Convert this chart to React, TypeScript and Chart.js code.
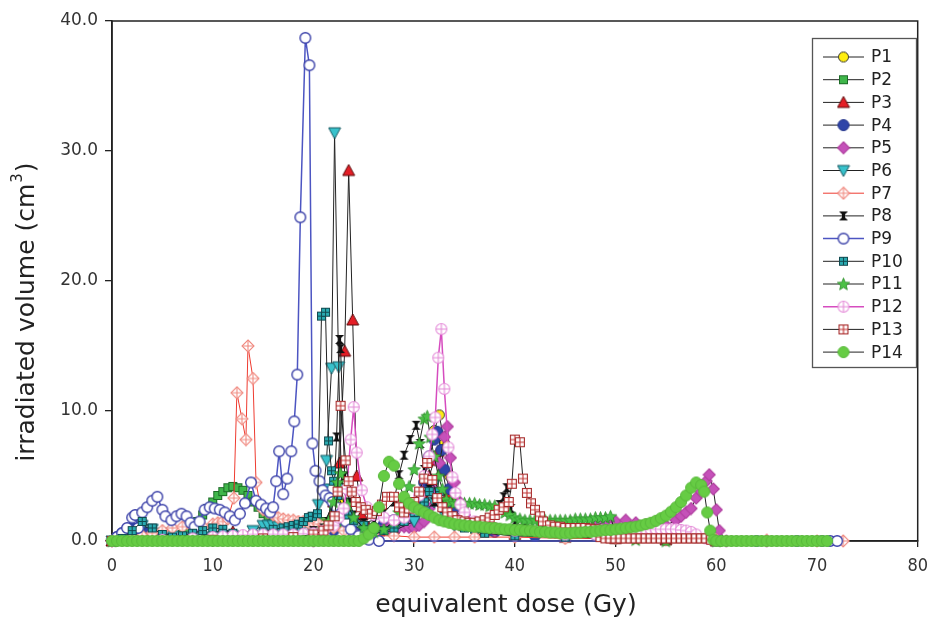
import React, { useEffect, useRef } from "react";
import { Chart, registerables } from "chart.js";

Chart.register(...registerables);

// ---------- data: [dose (Gy), volume (cm3)] ----------
const SERIES_NAMES = ["P1", "P2", "P3", "P4", "P5", "P6", "P7", "P8", "P9", "P10", "P11", "P12", "P13", "P14"];
const X_TICKS = [0, 10, 20, 30, 40, 50, 60, 70, 80];
const Y_TICKS = [0, 10, 20, 30, 40];
const X_TITLE = "equivalent dose (Gy)";
const Y_TITLE_MAIN = "irradiated volume (cm";
const Y_TITLE_SUP = "3";
const Y_TITLE_END = ")";

const P1: [number, number][] = [[0,0],[20,0.2],[21,0.8],[22,2.0],[22.5,3.0],[23,1.5],[24,0.6],[26,0.4],[28,0.8],[29,1.2],[30,2.0],[30.5,3.0],[31,4.5],[31.5,6.5],[32,8.5],[32.5,9.7],[33,7.5],[33.5,5.0],[34,3.0],[35,1.5],[37,0.8],[40,0.5],[45,0.3],[50,0.2],[55,0.1],[60,0]];
const P2: [number, number][] = [[0,0],[5,0],[6,0.2],[7,0.5],[7.5,0.8],[8,1.1],[8.5,1.5],[9,2.0],[9.5,2.5],[10,3.0],[10.5,3.5],[11,3.8],[11.5,4.1],[12,4.2],[12.5,4.1],[13,3.9],[13.5,3.5],[14,3.0],[14.5,2.6],[15,2.1],[15.5,1.8],[16,1.5],[16.5,1.2],[17,1.0],[18,0.6],[19,0.4],[20,0.6],[21,1.5],[22,2.5],[23,1.2],[25,0.6],[28,0.8],[30,1.5],[31,3.0],[32,4.5],[33,3.0],[34,1.5],[36,0.9],[40,0.6],[45,0.4],[50,0.2],[55,0.1],[60,0]];
const P3: [number, number][] = [[0,0],[8,0.2],[10,0.6],[11,0.9],[12,0.7],[14,0.5],[16,0.5],[18,0.6],[20,0.8],[21,1.2],[22,3.0],[22.6,6.0],[23.1,14.6],[23.5,28.5],[23.9,17.0],[24.3,5.0],[24.8,2.0],[25.5,1.0],[26.5,0.8],[28,1.0],[30,2.0],[31,3.5],[31.5,5.0],[32,6.2],[32.4,6.9],[32.8,5.5],[33.3,3.5],[34,2.0],[35,1.2],[37,0.8],[40,0.5],[45,0.3],[50,0.2],[55,0.1],[60,0]];
const P4: [number, number][] = [[0,0],[0.5,0.3],[1,0.6],[1.5,0.9],[2,1.0],[2.5,0.9],[3,0.8],[3.5,0.6],[4,0.5],[5,0.4],[6,0.3],[8,0.3],[10,0.3],[12,0.4],[14,0.5],[16,0.4],[18,0.4],[20,0.5],[22,0.8],[24,0.7],[25,0.8],[26,1.0],[27,1.3],[27.5,1.5],[28,1.6],[28.5,1.6],[29,1.5],[29.5,1.6],[30,2.0],[30.5,3.0],[31,4.5],[31.5,6.5],[32,7.8],[32.3,8.4],[32.7,7.0],[33,5.5],[33.5,4.0],[34,2.5],[35,1.5],[36,1.0],[38,0.7],[40,0.5],[42,0.4],[45,0.4],[48,0.5],[50,0.6],[52,0.7],[54,0.7],[56,0.5],[58,0.3],[60,0]];
const P5: [number, number][] = [[0,0],[20,0],[24,0.1],[25,0.3],[25.5,0.45],[26,0.6],[26.5,0.75],[27,0.9],[27.5,1.0],[28,1.1],[28.5,1.1],[29,1.1],[29.5,1.05],[30,1.0],[30.5,1.2],[31,1.5],[31.5,2.5],[32,4.0],[32.5,6.0],[33,8.0],[33.3,8.8],[33.6,6.4],[34,4.5],[34.5,3.0],[35,2.0],[36,1.2],[38,0.8],[40,0.6],[44,0.7],[48,1.2],[49,1.5],[50,1.5],[51,1.6],[52,1.4],[53,1.2],[54,1.1],[55,1.2],[56,1.6],[56.5,1.9],[57,2.2],[57.5,2.5],[58,3.3],[58.5,3.8],[59,4.6],[59.3,5.1],[59.7,4.0],[60,2.4],[60.3,0.8],[61,0],[65,0]];
const P6: [number, number][] = [[0,0],[1,0.3],[2,0.8],[3,1.2],[4,0.9],[5,0.6],[6,0.4],[8,0.3],[10,0.3],[12,0.4],[14,0.8],[15,1.2],[15.5,1.2],[16,1.2],[16.5,1.1],[17,1.1],[17.5,1.1],[18,1.1],[18.5,1.1],[19,1.2],[19.5,1.3],[20,1.8],[20.5,2.8],[21,4.0],[21.3,6.2],[21.8,13.3],[22.1,31.4],[22.5,13.4],[22.8,4.0],[23.2,2.0],[24,1.2],[25,0.8],[26,0.6],[28,0.8],[30,1.5],[31,2.2],[32,3.0],[33,2.0],[34,1.2],[36,0.7],[40,0.4],[45,0.3],[50,0.2],[55,0.1],[60,0]];
const P7: [number, number][] = [[0,0],[2,0.2],[3,0.4],[4,0.6],[5,0.8],[6,1.0],[7,1.1],[8,1.0],[9,1.1],[10,1.3],[10.5,1.4],[11,1.5],[11.5,1.7],[12.1,3.3],[12.4,11.4],[12.9,9.4],[13.3,7.8],[13.5,15.0],[14.0,12.5],[14.3,4.5],[14.7,2.8],[15,2.4],[15.5,2.2],[16,2.0],[16.5,1.8],[17,1.7],[17.5,1.6],[18,1.6],[18.5,1.5],[19,1.5],[19.5,1.4],[20,1.4],[20.5,1.3],[21,1.2],[21.5,1.1],[22,1.0],[23,0.8],[24,0.6],[25,0.5],[26,0.4],[28,0.4],[30,0.3],[32,0.3],[34,0.3],[36,0.3],[40,0.3],[45,0.2],[50,0.2],[55,0.1],[60,0.1],[65,0.05],[70,0],[72.6,0]];
const P8: [number, number][] = [[0,0],[10,0.1],[15,0.3],[18,0.5],[20,0.8],[21,1.0],[21.5,1.5],[22,3.0],[22.3,8.0],[22.6,15.5],[22.7,14.8],[23.1,5.0],[23.6,3.0],[24,2.0],[25,1.4],[26,1.6],[27,2.2],[28,3.0],[28.5,5.1],[29,6.6],[29.6,7.8],[30.2,8.9],[30.6,7.5],[31,5.5],[31.5,4.0],[32,3.0],[33,2.0],[34,1.6],[35,1.4],[36,1.4],[37,1.6],[38,2.0],[38.5,2.8],[38.9,3.4],[39.2,4.1],[39.6,2.5],[40,1.5],[41,1.0],[43,0.8],[45,0.6],[50,0.4],[55,0.2],[60,0]];
const P9: [number, number][] = [[0,0],[0.5,0.3],[1,0.6],[1.5,1.0],[2,1.8],[2.3,2.0],[2.6,1.0],[3,2.2],[3.5,2.6],[4,3.1],[4.5,3.4],[5,2.4],[5.3,1.9],[5.9,1.6],[6.4,1.9],[6.9,2.1],[7.4,1.9],[7.8,1.4],[8.2,1.1],[8.7,1.5],[9.2,2.4],[9.7,2.6],[10.2,2.5],[10.7,2.4],[11.2,2.2],[11.7,1.9],[12.2,1.6],[12.7,2.1],[13.2,2.9],[13.8,4.5],[14.3,3.1],[14.8,2.8],[15.3,2.5],[15.7,2.2],[16.0,2.6],[16.3,4.6],[16.6,6.9],[17.0,3.6],[17.4,4.8],[17.8,6.9],[18.1,9.2],[18.4,12.8],[18.7,24.9],[19.2,38.7],[19.6,36.6],[19.9,7.5],[20.2,5.4],[20.6,4.6],[20.9,3.9],[21.2,3.5],[21.6,3.3],[21.9,3.0],[22.3,2.6],[22.7,2.1],[23.2,1.5],[23.7,0.9],[24.5,0.4],[25.5,0.1],[26.5,0],[60,0],[64,0],[68,0],[70.5,0],[71.3,0],[72,0]];
const P10: [number, number][] = [[0,0],[1,0.2],[2,0.8],[3,1.5],[4,1.0],[5,0.5],[6,0.3],[7,0.4],[8,0.6],[9,0.8],[10,1.0],[11,0.9],[12,0.6],[13,0.4],[14,0.5],[15,0.7],[16,0.9],[17,1.0],[17.5,1.1],[18,1.2],[18.5,1.3],[19,1.5],[19.5,1.8],[19.9,1.9],[20.4,2.1],[20.8,17.3],[21.2,17.6],[21.5,7.7],[21.8,5.4],[22.0,4.6],[22.4,3.5],[23,2.5],[23.5,2.0],[24,1.6],[25,1.2],[26,0.9],[27,0.8],[28,1.0],[29,1.5],[30,2.2],[31,3.0],[31.5,3.8],[32,4.7],[32.5,3.8],[33,2.5],[34,1.5],[35,1.0],[37,0.6],[40,0.4],[45,0.3],[50,0.2],[55,0.1],[60,0]];
const P11: [number, number][] = [[0,0],[10,0.1],[15,0.2],[18,0.3],[20,0.5],[21,0.9],[21.5,1.5],[22,3.0],[22.4,4.5],[22.7,5.2],[23.0,4.0],[23.4,2.8],[24,1.8],[25,1.0],[26,0.7],[27,0.9],[28,1.5],[28.5,2.2],[29,3.0],[29.5,4.2],[30,5.5],[30.5,7.5],[31,9.4],[31.3,9.6],[31.6,8.0],[32,6.5],[32.4,5.0],[32.8,4.0],[33.2,3.2],[33.6,3.0],[34,2.9],[34.5,2.9],[35,2.9],[35.5,2.9],[36,2.9],[36.5,2.8],[37,2.8],[37.5,2.7],[38,2.7],[38.5,2.5],[39,2.2],[39.5,2.0],[40,1.8],[40.5,1.7],[41,1.6],[41.5,1.6],[42,1.6],[42.5,1.6],[43,1.6],[43.5,1.6],[44,1.6],[44.5,1.6],[45,1.6],[45.5,1.6],[46,1.7],[46.5,1.7],[47,1.7],[47.5,1.7],[48,1.8],[48.5,1.8],[49,1.8],[49.5,1.9],[50,0.5],[52,0.1],[55,0],[60,0]];
const P12: [number, number][] = [[0,0],[5,0.1],[8,0.2],[10,0.3],[11,0.35],[12,0.4],[13,0.45],[14,0.5],[15,0.5],[16,0.5],[17,0.5],[18,0.5],[19,0.55],[20,0.6],[21,0.8],[22,1.2],[22.5,1.8],[23,2.5],[23.3,4.0],[23.7,7.8],[24.0,10.3],[24.3,6.8],[24.8,3.9],[25.3,2.6],[26,2.0],[27,1.8],[28,1.6],[29,1.8],[30,2.5],[30.5,3.5],[31,5.0],[31.5,6.5],[31.8,8.2],[32.1,9.5],[32.4,14.1],[32.7,16.3],[33.0,11.7],[33.4,7.2],[33.8,4.9],[34.1,3.7],[34.6,2.8],[35,2.2],[36,1.5],[38,1.0],[40,0.8],[45,0.5],[48,0.5],[50,0.6],[51,0.7],[52,0.8],[52.5,0.85],[53,0.9],[53.5,0.9],[54,0.9],[54.5,0.9],[55,0.9],[55.5,0.9],[56,0.9],[56.5,0.85],[57,0.8],[57.5,0.7],[58,0.5],[59,0.2],[60,0]];
const P13: [number, number][] = [[0,0],[5,0],[10,0.1],[15,0.2],[18,0.3],[20,0.5],[21,0.8],[21.5,1.2],[22.1,1.9],[22.4,3.8],[22.7,10.4],[23.2,6.2],[23.5,4.6],[23.8,3.8],[24.2,3.0],[24.7,2.6],[25.2,2.4],[25.8,2.1],[26.3,2.3],[26.8,2.8],[27.3,3.4],[28.0,3.4],[28.5,2.6],[29.0,2.2],[29.5,2.5],[30.0,3.0],[30.5,3.8],[31.0,4.8],[31.3,6.0],[31.8,4.7],[32.3,3.3],[32.8,2.6],[33.3,2.2],[33.8,1.9],[34.3,1.6],[35,1.5],[35.5,1.4],[36,1.4],[36.5,1.5],[37,1.6],[37.5,1.8],[38,2.0],[38.4,2.4],[38.9,2.6],[39.4,3.0],[39.7,4.4],[40.0,7.8],[40.5,7.6],[40.8,4.8],[41.2,3.7],[41.6,2.9],[42.0,2.4],[42.5,1.9],[42.8,1.5],[43.5,1.2],[44,1.1],[44.5,1.1],[45,1.0],[45.5,1.0],[46,1.0],[46.5,1.0],[47,1.0],[47.5,0.95],[48,0.9],[48.5,0.3],[49,0.2],[49.5,0.2],[50,0.2],[50.5,0.2],[51,0.2],[51.5,0.2],[52,0.2],[52.5,0.2],[53,0.2],[53.5,0.2],[54,0.2],[54.5,0.2],[55,0.2],[55.5,0.2],[56,0.2],[56.5,0.2],[57,0.2],[57.5,0.2],[58,0.2],[58.5,0.2],[59,0.2],[59.5,0.1],[60,0]];
const P14: [number, number][] = [
  [0,0],[0.5,0],[1,0],[1.5,0],[2,0],[2.5,0],[3,0],[3.5,0],[4,0],[4.5,0],[5,0],[5.5,0],[6,0],[6.5,0],[7,0],[7.5,0],[8,0],[8.5,0],[9,0],[9.5,0],
  [10,0],[10.5,0],[11,0],[11.5,0],[12,0],[12.5,0],[13,0],[13.5,0],[14,0],[14.5,0],[15,0],[15.5,0],[16,0],[16.5,0],[17,0],[17.5,0],[18,0],[18.5,0],[19,0],[19.5,0],
  [20,0],[20.5,0],[21,0],[21.5,0],[22,0],[22.5,0],[23,0],[23.5,0],[24,0],[24.5,0],
  [25,0.2],[25.5,0.5],[26,1.0],[26.5,2.6],[27,5.0],[27.5,6.1],[28,5.8],[28.5,4.4],[29,3.4],[29.5,2.9],
  [30,2.6],[30.5,2.4],[31,2.2],[31.5,2.0],[32,1.8],[32.5,1.6],[33,1.5],[33.5,1.4],[34,1.3],[34.5,1.25],
  [35,1.2],[35.5,1.15],[36,1.1],[36.5,1.1],[37,1.05],[37.5,1.0],[38,1.0],[38.5,0.95],[39,0.9],[39.5,0.9],
  [40,0.85],[40.5,0.85],[41,0.8],[41.5,0.8],[42,0.75],[42.5,0.7],[43,0.7],[43.5,0.65],[44,0.65],[44.5,0.6],
  [45,0.6],[45.5,0.6],[46,0.65],[46.5,0.65],[47,0.7],[47.5,0.7],[48,0.75],[48.5,0.8],[49,0.85],[49.5,0.85],
  [50,0.9],[50.5,0.95],[51,1.0],[51.5,1.05],[52,1.1],[52.5,1.2],[53,1.3],[53.5,1.4],[54,1.55],[54.5,1.75],
  [55,1.95],[55.5,2.25],[56,2.6],[56.5,3.0],[57,3.5],[57.5,4.1],[58,4.5],[58.5,4.3],
  [58.8,3.8],[59.1,2.2],[59.4,0.8],[59.7,0.1],
  [60,0],[60.5,0],[61,0],[61.5,0],[62,0],[62.5,0],[63,0],[63.5,0],[64,0],[64.5,0],[65,0],[65.5,0],
  [66,0],[66.5,0],[67,0],[67.5,0],[68,0],[68.5,0],[69,0],[69.5,0],[70,0],[70.5,0],[71,0]
];

const SERIES_DATA = [P1, P2, P3, P4, P5, P6, P7, P8, P9, P10, P11, P12, P13, P14];

// ---------- marker factories ----------
type Draw = (c: CanvasRenderingContext2D, s: number) => void;
function makeCanvas(size: number, draw: Draw): HTMLCanvasElement {
  const cv = document.createElement("canvas");
  cv.width = size;
  cv.height = size;
  const c = cv.getContext("2d") as CanvasRenderingContext2D;
  draw(c, size);
  return cv;
}
function circleMarker(d: number, fill: string, stroke: string, lw: number, cross = false) {
  return makeCanvas(d + 2, (c, s) => {
    const r = d / 2 - lw / 2;
    c.beginPath();
    c.arc(s / 2, s / 2, r, 0, Math.PI * 2);
    c.fillStyle = fill;
    c.fill();
    c.lineWidth = lw;
    c.strokeStyle = stroke;
    c.stroke();
    if (cross) {
      c.beginPath();
      c.moveTo(s / 2, s / 2 - r);
      c.lineTo(s / 2, s / 2 + r);
      c.moveTo(s / 2 - r, s / 2);
      c.lineTo(s / 2 + r, s / 2);
      c.stroke();
    }
  });
}
function squareMarker(d: number, fill: string, stroke: string, lw: number, cross = false, crossColor?: string) {
  return makeCanvas(d + 2, (c, s) => {
    const o = 1 + lw / 2;
    const w = s - 2 * o;
    c.fillStyle = fill;
    c.fillRect(o, o, w, w);
    c.lineWidth = lw;
    c.strokeStyle = stroke;
    c.strokeRect(o, o, w, w);
    if (cross) {
      c.strokeStyle = crossColor || stroke;
      c.beginPath();
      c.moveTo(s / 2, o);
      c.lineTo(s / 2, o + w);
      c.moveTo(o, s / 2);
      c.lineTo(o + w, s / 2);
      c.stroke();
    }
  });
}
function triangleMarker(d: number, fill: string, stroke: string, down: boolean) {
  return makeCanvas(d + 2, (c, s) => {
    const m = 1;
    c.beginPath();
    if (!down) {
      c.moveTo(s / 2, m);
      c.lineTo(s - m, s - m - 1);
      c.lineTo(m, s - m - 1);
    } else {
      c.moveTo(m, m + 1);
      c.lineTo(s - m, m + 1);
      c.lineTo(s / 2, s - m);
    }
    c.closePath();
    c.fillStyle = fill;
    c.fill();
    c.lineWidth = 1;
    c.strokeStyle = stroke;
    c.stroke();
  });
}
function diamondMarker(d: number, fill: string, stroke: string, cross = false) {
  return makeCanvas(d + 2, (c, s) => {
    const h = s / 2;
    const r = d / 2;
    c.beginPath();
    c.moveTo(h, h - r);
    c.lineTo(h + r, h);
    c.lineTo(h, h + r);
    c.lineTo(h - r, h);
    c.closePath();
    c.fillStyle = fill;
    c.fill();
    c.lineWidth = 1.1;
    c.strokeStyle = stroke;
    c.stroke();
    if (cross) {
      c.beginPath();
      c.moveTo(h, h - r);
      c.lineTo(h, h + r);
      c.moveTo(h - r, h);
      c.lineTo(h + r, h);
      c.stroke();
    }
  });
}
function hourglassMarker(d: number) {
  return makeCanvas(d + 2, (c, s) => {
    const m = 1;
    c.fillStyle = "#111";
    c.beginPath();
    c.moveTo(m, m);
    c.lineTo(s - m, m);
    c.lineTo(s / 2, s / 2);
    c.closePath();
    c.fill();
    c.beginPath();
    c.moveTo(m, s - m);
    c.lineTo(s - m, s - m);
    c.lineTo(s / 2, s / 2);
    c.closePath();
    c.fill();
    c.fillRect(s / 2 - 1.5, m, 3, s - 2 * m);
  });
}
function starMarker(d: number, fill: string, stroke: string) {
  return makeCanvas(d + 2, (c, s) => {
    const R = d / 2;
    const r = R * 0.45;
    c.beginPath();
    for (let k = 0; k < 10; k++) {
      const a = -Math.PI / 2 + (k * Math.PI) / 5;
      const rr = k % 2 === 0 ? R : r;
      const x = s / 2 + rr * Math.cos(a);
      const y = s / 2 + 0.5 + rr * Math.sin(a);
      if (k === 0) c.moveTo(x, y);
      else c.lineTo(x, y);
    }
    c.closePath();
    c.fillStyle = fill;
    c.fill();
    c.lineWidth = 0.8;
    c.strokeStyle = stroke;
    c.stroke();
  });
}

interface Style {
  line: string;
  lineWidth: number;
  marker: () => HTMLCanvasElement;
}
const STYLES: Style[] = [
  { line: "#222", lineWidth: 1, marker: () => circleMarker(11, "#ffee10", "#333", 1) },
  { line: "#222", lineWidth: 1, marker: () => squareMarker(9, "#3fb64a", "#1d6b27", 1) },
  { line: "#222", lineWidth: 1, marker: () => triangleMarker(12, "#e41e26", "#5a0a0a", false) },
  { line: "#222", lineWidth: 1, marker: () => circleMarker(12, "#2f45a8", "#24358a", 1) },
  { line: "#222", lineWidth: 1, marker: () => diamondMarker(12, "#c551b9", "#b0409f") },
  { line: "#222", lineWidth: 1, marker: () => triangleMarker(12, "#38c2cc", "#1a5a62", true) },
  { line: "#ee3b30", lineWidth: 1, marker: () => diamondMarker(12, "#ffffff", "#f08a80", true) },
  { line: "#222", lineWidth: 1, marker: () => hourglassMarker(9) },
  { line: "#4c55c2", lineWidth: 1.5, marker: () => circleMarker(12, "#ffffff", "#3a40a8", 1.4) },
  { line: "#222", lineWidth: 1, marker: () => squareMarker(9, "#2aaab0", "#124a50", 1, true) },
  { line: "#222", lineWidth: 1, marker: () => starMarker(13, "#4cc146", "#2c8a2a") },
  { line: "#d64cbf", lineWidth: 1.5, marker: () => circleMarker(12, "#ffffff", "#e48ad8", 1.1, true) },
  { line: "#222", lineWidth: 1, marker: () => squareMarker(10, "#ffffff", "#a52a2a", 1.1, true, "#c03030") },
  { line: "#222", lineWidth: 1, marker: () => circleMarker(12, "#66cc44", "#58b83a", 1) },
];

const FONT = "'DejaVu Sans', Verdana, sans-serif";

export default function App() {
  const ref = useRef<HTMLCanvasElement>(null);

  useEffect(() => {
    const canvas = ref.current;
    if (!canvas) return;
    const markers = STYLES.map((s) => s.marker());

    const datasets = SERIES_NAMES.map((name, i) => ({
      label: name,
      data: SERIES_DATA[i].map(([x, y]) => ({ x, y })),
      borderColor: STYLES[i].line,
      backgroundColor: STYLES[i].line,
      borderWidth: STYLES[i].lineWidth,
      pointStyle: markers[i],
      pointRadius: 6,
      pointHoverRadius: 6,
      pointHitRadius: 0,
      tension: 0,
      fill: false,
      clip: false as any,
      order: SERIES_NAMES.length - 1 - i,
    }));

    const decor = {
      id: "decor",
      beforeDatasetsDraw(chart: any) {
        const { ctx, chartArea: a } = chart;
        ctx.save();
        ctx.strokeStyle = "#222";
        ctx.lineWidth = 1.5;
        ctx.strokeRect(a.left, a.top, a.right - a.left, a.bottom - a.top);
        ctx.restore();
      },
      afterDraw(chart: any) {
        const ctx: CanvasRenderingContext2D = chart.ctx;
        // axis titles
        ctx.save();
        ctx.fillStyle = "#222";
        ctx.font = `25px ${FONT}`;
        ctx.textAlign = "center";
        ctx.textBaseline = "middle";
        ctx.fillText(X_TITLE, 506, 605);
        ctx.translate(27, 313);
        ctx.rotate(-Math.PI / 2);
        ctx.textAlign = "left";
        ctx.textBaseline = "middle";
        const w1 = ctx.measureText(Y_TITLE_MAIN).width;
        const w3 = ctx.measureText(Y_TITLE_END).width;
        ctx.font = `15px ${FONT}`;
        const w2 = ctx.measureText(Y_TITLE_SUP).width;
        let x = -(w1 + w2 + w3) / 2;
        ctx.font = `25px ${FONT}`;
        ctx.fillText(Y_TITLE_MAIN, x, 0);
        x += w1;
        ctx.font = `15px ${FONT}`;
        ctx.fillText(Y_TITLE_SUP, x + 1, -9);
        x += w2 + 2;
        ctx.font = `25px ${FONT}`;
        ctx.fillText(Y_TITLE_END, x, 0);
        ctx.restore();

        // legend
        ctx.save();
        ctx.fillStyle = "#fff";
        ctx.fillRect(812, 38, 104, 329);
        ctx.strokeStyle = "#555";
        ctx.lineWidth = 1.3;
        ctx.strokeRect(812.5, 38.5, 104, 329);
        SERIES_NAMES.forEach((name, i) => {
          const y = 57 + i * 22.7;
          ctx.strokeStyle = STYLES[i].line;
          ctx.lineWidth = STYLES[i].lineWidth;
          ctx.beginPath();
          ctx.moveTo(823, y);
          ctx.lineTo(864, y);
          ctx.stroke();
          const m = markers[i];
          ctx.drawImage(m, 843.5 - m.width / 2, y - m.height / 2);
          ctx.fillStyle = "#222";
          ctx.font = `17px ${FONT}`;
          ctx.textAlign = "left";
          ctx.textBaseline = "middle";
          ctx.fillText(name, 871, y + 1);
        });
        ctx.restore();
      },
    };

    const chart = new Chart(canvas, {
      type: "line",
      data: { datasets: datasets as any },
      options: {
        responsive: false,
        animation: false,
        devicePixelRatio: 1,
        layout: { padding: { top: 21, right: 16, left: 0, bottom: 0 } },
        plugins: { legend: { display: false }, tooltip: { enabled: false } },
        events: [],
        scales: {
          x: {
            type: "linear",
            min: X_TICKS[0],
            max: X_TICKS[X_TICKS.length - 1],
            afterFit: (s: any) => {
              s.height = 85;
            },
            afterBuildTicks: (s: any) => {
              s.ticks = X_TICKS.map((v) => ({ value: v }));
            },
            ticks: {
              color: "#333",
              font: { family: "'DejaVu Sans Condensed', 'DejaVu Sans', sans-serif", size: 18 },
              padding: 9,
              callback: (v: any) => String(v),
            },
            grid: { display: true, drawOnChartArea: false, drawTicks: true, tickLength: 6, color: "#222", lineWidth: 1.3 },
            border: { display: true, color: "#222", width: 1.5 },
          },
          y: {
            type: "linear",
            min: Y_TICKS[0],
            max: Y_TICKS[Y_TICKS.length - 1],
            afterFit: (s: any) => {
              s.width = 112;
            },
            afterBuildTicks: (s: any) => {
              s.ticks = Y_TICKS.map((v) => ({ value: v }));
            },
            ticks: {
              color: "#333",
              font: { family: FONT, size: 17 },
              padding: 7,
              callback: (v: any) => Number(v).toFixed(1),
            },
            grid: { display: true, drawOnChartArea: false, drawTicks: true, tickLength: 7, color: "#222", lineWidth: 1.3 },
            border: { display: true, color: "#222", width: 1.5 },
          },
        },
      },
      plugins: [decor],
    });
    return () => chart.destroy();
  }, []);

  return (
    <div style={{ position: "absolute", left: 0, top: 0, width: 937, height: 626, background: "#fff" }}>
      <canvas ref={ref} width={937} height={626} style={{ display: "block", width: 937, height: 626 }} />
    </div>
  );
}
